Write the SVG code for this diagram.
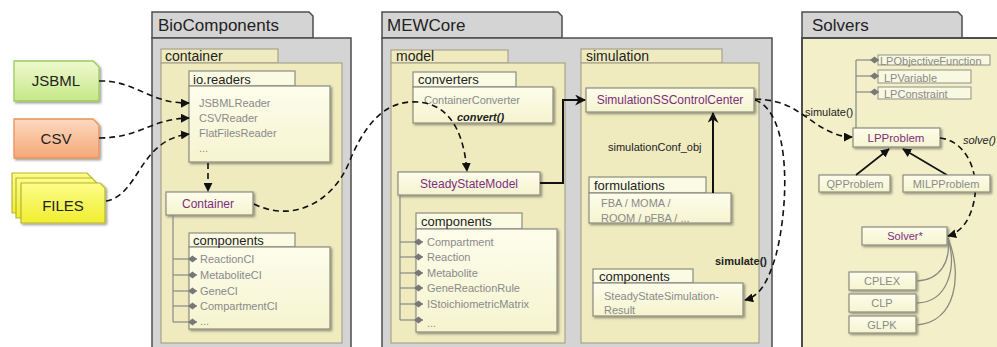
<svg xmlns="http://www.w3.org/2000/svg" width="997" height="347" viewBox="0 0 997 347">
  <defs>
    <linearGradient id="gGreen" x1="0" y1="0" x2="0" y2="1">
      <stop offset="0" stop-color="#eef9cf"/>
      <stop offset="1" stop-color="#c6e887"/>
    </linearGradient>
    <linearGradient id="gOrange" x1="0" y1="0" x2="0" y2="1">
      <stop offset="0" stop-color="#fcd9c0"/>
      <stop offset="1" stop-color="#f6a878"/>
    </linearGradient>
    <linearGradient id="gYellow" x1="0" y1="0" x2="0" y2="1">
      <stop offset="0" stop-color="#fdfd8a"/>
      <stop offset="1" stop-color="#f0ee30"/>
    </linearGradient>
    <linearGradient id="gCream" x1="0" y1="0" x2="0" y2="1">
      <stop offset="0" stop-color="#fdfdec"/>
      <stop offset="1" stop-color="#f5f4cf"/>
    </linearGradient>
    <filter id="sh" x="-10%" y="-10%" width="130%" height="140%">
      <feDropShadow dx="1.5" dy="1.5" stdDeviation="1" flood-color="#000" flood-opacity="0.4"/>
    </filter>
    <marker id="arr" viewBox="0 0 10 10" refX="9" refY="5" markerWidth="9" markerHeight="9" markerUnits="userSpaceOnUse" orient="auto">
      <path d="M0,0 L10,5 L0,10 Z" fill="#111"/>
    </marker>
    <marker id="arrB" viewBox="0 0 10 10" refX="9" refY="5" markerWidth="11" markerHeight="11" markerUnits="userSpaceOnUse" orient="auto">
      <path d="M0,0 L10,5 L0,10 L3,5 Z" fill="#111"/>
    </marker>
    <marker id="dia" viewBox="0 0 10 10" refX="10" refY="5" markerWidth="9" markerHeight="9" markerUnits="userSpaceOnUse" orient="auto">
      <path d="M0,5 L5,1 L10,5 L5,9 Z" fill="#777"/>
    </marker>
  </defs>
  <style>
    text { font-family: "Liberation Sans", Arial, sans-serif; }
    .outer { fill: #d4d4d4; stroke: #4d4d4d; stroke-width: 1.5; }
    .pkg { fill: #efebbf; stroke: #a7a38c; stroke-width: 1.2; }
    .solverBody { fill: #f3f0c9; stroke: #4d4d4d; stroke-width: 2; }
    .box { fill: url(#gCream); stroke: #8d8c80; stroke-width: 1.2; filter: url(#sh); }
    .tab { fill: #fbfbe4; stroke: #8d8c80; stroke-width: 1.2; }
    .title { font-size: 17px; fill: #222; }
    .ptitle { font-size: 14px; fill: #222; }
    .btitle { font-size: 13px; fill: #222; }
    .item { font-size: 11px; fill: #8a8a8a; }
    .cls { font-size: 12px; fill: #7d2e7d; text-anchor: middle; }
    .lbl { font-size: 11px; fill: #222; }
    .blbl { font-size: 11px; fill: #222; font-weight: bold; }
    .ital { font-size: 11px; fill: #222; font-style: italic; font-weight: bold; }
    .src { font-size: 15px; fill: #222; text-anchor: middle; }
    .tree { fill: none; stroke: #888; stroke-width: 1.2; }
    .dash { fill: none; stroke: #111; stroke-width: 1.6; stroke-dasharray: 6 4; }
    .solid { fill: none; stroke: #111; stroke-width: 2; }
    .link { fill: none; stroke: #8a8a80; stroke-width: 1.3; }
  </style>

  <!-- external data sources -->
  <g id="jsbml">
    <path d="M14,61 H93 L99,67 V101 H14 Z" fill="url(#gGreen)" stroke="#9ccb60" stroke-width="1.3" filter="url(#sh)"/>
    <text class="src" x="56" y="86">JSBML</text>
  </g>
  <g id="csv">
    <path d="M14,119 H93 L99,125 V158 H14 Z" fill="url(#gOrange)" stroke="#e8935c" stroke-width="1.3" filter="url(#sh)"/>
    <text class="src" x="56" y="144">CSV</text>
  </g>
  <g id="files">
    <path d="M12,173 H87 L92,178 V213 H12 Z" fill="url(#gYellow)" stroke="#b8b630" stroke-width="1.2"/>
    <path d="M16,178 H92 L97,183 V218 H16 Z" fill="url(#gYellow)" stroke="#b8b630" stroke-width="1.2"/>
    <path d="M21,183 H100 L105,188 V223 H21 Z" fill="url(#gYellow)" stroke="#b8b630" stroke-width="1.2" filter="url(#sh)"/>
    <text class="src" x="63" y="211">FILES</text>
  </g>

  <!-- BioComponents package -->
  <g id="biocomponents">
    <path class="outer" d="M152,38 V12 H309 L313,16 V38 Z"/>
    <rect class="outer" x="152" y="38" width="199" height="310"/>
    <text class="title" x="158" y="31">BioComponents</text>
  </g>
  <g id="container-pkg">
    <rect class="pkg" x="161" y="49" width="117" height="14"/>
    <rect class="pkg" x="161" y="63" width="181" height="280"/>
    <text class="ptitle" x="165" y="61">container</text>
  </g>
  <g id="io-readers">
    <rect class="tab" x="189" y="71" width="106" height="15"/>
    <rect class="box" x="189" y="86" width="141" height="76"/>
    <text class="btitle" x="193" y="83.5">io.readers</text>
    <text class="item" x="199" y="107">JSBMLReader</text>
    <text class="item" x="199" y="122">CSVReader</text>
    <text class="item" x="199" y="137">FlatFilesReader</text>
    <text class="item" x="199" y="152">...</text>
  </g>
  <g id="container">
    <rect class="box" x="166" y="192" width="87" height="23"/>
    <text class="cls" x="208" y="208">Container</text>
  </g>
  <g id="bio-components">
    <rect class="tab" x="189" y="233" width="106" height="14"/>
    <rect class="box" x="189" y="247" width="141" height="82"/>
    <text class="btitle" x="193" y="245">components</text>
    <text class="item" x="200" y="263">ReactionCI</text>
    <text class="item" x="200" y="279">MetaboliteCI</text>
    <text class="item" x="200" y="295">GeneCI</text>
    <text class="item" x="200" y="310">CompartmentCI</text>
    <text class="item" x="200" y="325">...</text>
    <path class="tree" d="M173,215 V322"/>
    <path class="tree" marker-end="url(#dia)" d="M173,259 H197"/>
    <path class="tree" marker-end="url(#dia)" d="M173,275 H197"/>
    <path class="tree" marker-end="url(#dia)" d="M173,291 H197"/>
    <path class="tree" marker-end="url(#dia)" d="M173,306 H197"/>
    <path class="tree" marker-end="url(#dia)" d="M173,322 H197"/>
  </g>

  <!-- MEWCore package -->
  <g id="mewcore">
    <path class="outer" d="M382,38 V12 H558 L562,16 V38 Z"/>
    <rect class="outer" x="382" y="38" width="390" height="310"/>
    <text class="title" x="387" y="31">MEWCore</text>
  </g>
  <g id="model-pkg">
    <rect class="pkg" x="391" y="50" width="117" height="13"/>
    <rect class="pkg" x="391" y="63" width="174" height="280"/>
    <text class="ptitle" x="396" y="61">model</text>
  </g>
  <g id="converters">
    <rect class="tab" x="413" y="72" width="103" height="15"/>
    <rect class="box" x="413" y="87" width="140" height="36"/>
    <text class="btitle" x="418" y="84">converters</text>
    <text class="item" x="424" y="104">ContainerConverter</text>
  </g>
  <g id="steadystatemodel">
    <rect class="box" x="398" y="172" width="142" height="23"/>
    <text class="cls" x="469" y="188">SteadyStateModel</text>
  </g>
  <g id="model-components">
    <rect class="tab" x="416" y="213" width="106" height="16"/>
    <rect class="box" x="416" y="229" width="141" height="103"/>
    <text class="btitle" x="421" y="226">components</text>
    <text class="item" x="427" y="246">Compartment</text>
    <text class="item" x="427" y="261">Reaction</text>
    <text class="item" x="427" y="277">Metabolite</text>
    <text class="item" x="427" y="292">GeneReactionRule</text>
    <text class="item" x="427" y="308">IStoichiometricMatrix</text>
    <text class="item" x="427" y="327">...</text>
    <path class="tree" d="M400,195 V320"/>
    <path class="tree" marker-end="url(#dia)" d="M400,242 H423"/>
    <path class="tree" marker-end="url(#dia)" d="M400,257 H423"/>
    <path class="tree" marker-end="url(#dia)" d="M400,273 H423"/>
    <path class="tree" marker-end="url(#dia)" d="M400,288 H423"/>
    <path class="tree" marker-end="url(#dia)" d="M400,304 H423"/>
    <path class="tree" marker-end="url(#dia)" d="M400,320 H423"/>
  </g>
  <g id="simulation-pkg">
    <rect class="pkg" x="581" y="49" width="141" height="14"/>
    <rect class="pkg" x="581" y="63" width="178" height="280"/>
    <text class="ptitle" x="586" y="61">simulation</text>
  </g>
  <g id="sscc">
    <rect class="box" x="586" y="88" width="168" height="24"/>
    <text class="cls" x="670" y="104">SimulationSSControlCenter</text>
  </g>
  <g id="formulations">
    <rect class="tab" x="589" y="177" width="117" height="16"/>
    <rect class="box" x="589" y="193" width="142" height="30"/>
    <text class="btitle" x="594" y="190">formulations</text>
    <text class="item" x="601" y="207">FBA / MOMA /</text>
    <text class="item" x="601" y="222">ROOM / pFBA / ...</text>
  </g>
  <g id="sim-components">
    <rect class="tab" x="593" y="269" width="100" height="14"/>
    <rect class="box" x="593" y="283" width="150" height="33"/>
    <text class="btitle" x="599" y="281">components</text>
    <text class="item" x="604" y="300">SteadyStateSimulation-</text>
    <text class="item" x="604" y="314">Result</text>
  </g>

  <!-- Solvers package -->
  <g id="solvers">
    <path class="outer" d="M802,38 V12 H958 L962,16 V38 Z"/>
    <rect class="solverBody" x="802" y="38" width="200" height="310"/>
    <text class="title" x="812" y="31">Solvers</text>
  </g>
  <g id="lp-parts">
    <rect x="878" y="55" width="112" height="10" fill="#f9f8e0" stroke="#9a9a8c" stroke-width="1.1"/>
    <rect x="878" y="70" width="93" height="13" fill="#f9f8e0" stroke="#9a9a8c" stroke-width="1.1"/>
    <rect x="878" y="87" width="93" height="12" fill="#f9f8e0" stroke="#9a9a8c" stroke-width="1.1"/>
    <text class="item" x="880" y="65">LPObjectiveFunction</text>
    <text class="item" x="884" y="82">LPVariable</text>
    <text class="item" x="884" y="98">LPConstraint</text>
    <path class="tree" d="M856,128 V60"/>
    <path class="tree" marker-end="url(#dia)" d="M856,60 H879"/>
    <path class="tree" marker-end="url(#dia)" d="M856,76 H879"/>
    <path class="tree" marker-end="url(#dia)" d="M856,92 H879"/>
  </g>
  <g id="lpproblem">
    <rect class="box" x="853" y="128" width="87" height="19"/>
    <text class="cls" x="896" y="142" style="font-size:11.5px">LPProblem</text>
  </g>
  <g id="qpproblem">
    <rect class="box" x="819" y="175" width="71" height="17"/>
    <text class="item" x="855" y="188" text-anchor="middle">QPProblem</text>
  </g>
  <g id="solver">
    <rect class="box" x="862" y="227" width="85" height="18"/>
    <text class="cls" x="905" y="240" style="font-size:11px">Solver*</text>
  </g>
  <g id="cplex">
    <rect class="box" x="849" y="272" width="67" height="18"/>
    <text class="item" x="882" y="285" text-anchor="middle" fill="#777">CPLEX</text>
  </g>
  <g id="clp">
    <rect class="box" x="849" y="294" width="67" height="18"/>
    <text class="item" x="882" y="307" text-anchor="middle">CLP</text>
  </g>
  <g id="glpk">
    <rect class="box" x="849" y="316" width="67" height="17"/>
    <text class="item" x="882" y="329" text-anchor="middle">GLPK</text>
  </g>

  <!-- connectors -->
  <g id="connectors">
    <path class="dash" marker-end="url(#arr)" d="M99,81 C135,80 150,104 189,103"/>
    <path class="dash" marker-end="url(#arr)" d="M99,138 C140,138 150,119 189,118"/>
    <path class="dash" marker-end="url(#arr)" d="M106,201 C140,195 138,140 189,134"/>
    <path class="dash" marker-end="url(#arr)" d="M208,163 V191"/>
    <path class="dash" marker-end="url(#arr)" d="M254,204 C290,222 330,205 348,165 C362,130 380,104 410,102 C445,100 463,125 467,171"/>
    <path class="solid" marker-end="url(#arrB)" d="M540,183 H563 V100 H585"/>
    <path class="solid" marker-end="url(#arrB)" d="M713,193 V113"/>
    <path class="dash" marker-end="url(#arr)" d="M755,100 C790,112 790,200 776,255 C768,282 760,296 745,300"/>
    <path class="dash" marker-end="url(#arr)" d="M755,99 C785,100 795,110 808,118 C820,127 835,137 852,137"/>
    <path class="solid" marker-end="url(#arr)" d="M856,175 L889,149" style="stroke-width:1.6"/>
    <path class="solid" marker-end="url(#arr)" d="M947,175 L903,149" style="stroke-width:1.6"/>
    <path class="dash" marker-end="url(#arr)" d="M940,138 C962,140 978,165 975,195 C972,218 962,232 948,236"/>
    <path class="link" d="M948,238 C951,262 940,280 917,281"/>
    <path class="link" d="M948,238 C957,268 948,302 917,303"/>
    <path class="link" d="M948,238 C963,275 956,322 917,325"/>
    <text class="ital" x="457" y="121">convert()</text>
    <text class="lbl" x="608" y="151">simulationConf_obj</text>
    <text class="blbl" x="715" y="265">simulate()</text>
    <text class="blbl" x="805" y="116" style="font-weight:normal">simulate()</text>
    <text class="ital" x="963" y="144" style="font-weight:normal">solve()</text>
  </g>

  <!-- drawn above the solve() connector -->
  <g id="milpproblem">
    <rect class="box" x="903" y="175" width="87" height="17"/>
    <text class="item" x="946" y="188" text-anchor="middle">MILPProblem</text>
  </g>
</svg>
